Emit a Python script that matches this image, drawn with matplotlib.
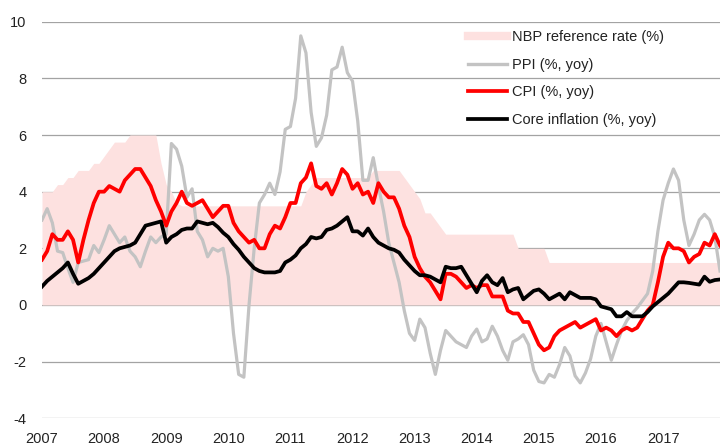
import matplotlib
matplotlib.use("Agg")
import matplotlib.pyplot as plt
from matplotlib.lines import Line2D
import numpy as np

plt.rcParams["font.family"] = ["Liberation Sans", "DejaVu Sans"]
plt.rcParams["axes.unicode_minus"] = False

# monthly series, Jan 2007 .. Dec 2017
years = [2007, 2008, 2009, 2010, 2011, 2012, 2013, 2014, 2015, 2016, 2017]

nbp_rate = [
    4.0, 4.0, 4.0, 4.25, 4.25, 4.5, 4.5, 4.75, 4.75, 4.75, 5.0, 5.0,
    5.25, 5.5, 5.75, 5.75, 5.75, 6.0, 6.0, 6.0, 6.0, 6.0, 6.0, 5.0,
    4.25, 4.0, 3.6, 3.5, 3.5, 3.5, 3.5, 3.5, 3.5, 3.5, 3.5, 3.5,
    3.5, 3.5, 3.5, 3.5, 3.5, 3.5, 3.5, 3.5, 3.5, 3.5, 3.5, 3.5,
    3.5, 3.5, 3.5, 4.0, 4.25, 4.5, 4.5, 4.5, 4.5, 4.5, 4.5, 4.5,
    4.5, 4.5, 4.5, 4.5, 4.75, 4.75, 4.75, 4.75, 4.75, 4.75, 4.5, 4.25,
    4.0, 3.75, 3.25, 3.25, 3.0, 2.75, 2.5, 2.5, 2.5, 2.5, 2.5, 2.5,
    2.5, 2.5, 2.5, 2.5, 2.5, 2.5, 2.5, 2.5, 2.0, 2.0, 2.0, 2.0,
    2.0, 2.0, 1.5, 1.5, 1.5, 1.5, 1.5, 1.5, 1.5, 1.5, 1.5, 1.5,
    1.5, 1.5, 1.5, 1.5, 1.5, 1.5, 1.5, 1.5, 1.5, 1.5, 1.5, 1.5,
    1.5, 1.5, 1.5, 1.5, 1.5, 1.5, 1.5, 1.5, 1.5, 1.5, 1.5, 1.5,
]

ppi = [
    3.0, 3.4, 2.9, 1.9, 1.85, 1.3, 0.8, 1.5, 1.55, 1.6, 2.1, 1.85,
    2.3, 2.8, 2.5, 2.2, 2.4, 1.9, 1.7, 1.35, 1.9, 2.4, 2.2, 2.4,
    2.5, 5.7, 5.5, 4.9, 3.8, 4.1, 2.6, 2.3, 1.7, 2.0, 1.9, 2.0,
    1.0, -1.0, -2.45, -2.55, 0.0, 2.0, 3.6, 3.9, 4.3, 3.9, 4.7, 6.2,
    6.3, 7.3, 9.5, 8.9, 6.8, 5.6, 5.9, 6.7, 8.3, 8.4, 9.1, 8.2,
    7.9, 6.5, 4.4, 4.4, 5.2, 4.2, 3.3, 2.2, 1.5, 0.8, -0.2, -1.0,
    -1.25, -0.5, -0.8, -1.7, -2.45, -1.6, -0.9, -1.1, -1.3, -1.4, -1.5, -1.1,
    -0.85, -1.3, -1.2, -0.75, -1.1, -1.6, -1.95, -1.3, -1.2, -1.05, -1.4, -2.3,
    -2.7, -2.75, -2.45, -2.55, -2.1, -1.5, -1.8, -2.5, -2.75, -2.4, -1.9, -1.1,
    -0.65, -1.3, -1.95, -1.4, -0.9, -0.55, -0.3, -0.1, 0.15, 0.4, 1.2, 2.6,
    3.7, 4.3, 4.8, 4.4, 3.0, 2.1, 2.5, 3.0, 3.2, 3.0, 2.4, 1.2,
]

cpi = [
    1.6, 1.9, 2.5, 2.3, 2.3, 2.6, 2.3, 1.5, 2.3, 3.0, 3.6, 4.0,
    4.0, 4.2, 4.1, 4.0, 4.4, 4.6, 4.8, 4.8, 4.5, 4.2, 3.7, 3.3,
    2.8, 3.3, 3.6, 4.0, 3.6, 3.5, 3.6, 3.7, 3.4, 3.1, 3.3, 3.5,
    3.5, 2.9, 2.6, 2.4, 2.2, 2.3, 2.0, 2.0, 2.5, 2.8, 2.7, 3.1,
    3.6, 3.6, 4.3, 4.5, 5.0, 4.2, 4.1, 4.3, 3.9, 4.3, 4.8, 4.6,
    4.1, 4.3, 3.9, 4.0, 3.6, 4.3, 4.0, 3.8, 3.8, 3.4, 2.8, 2.4,
    1.7, 1.3, 1.0, 0.8, 0.5, 0.2, 1.1, 1.1, 1.0, 0.8, 0.6, 0.7,
    0.6, 0.7, 0.7, 0.3, 0.3, 0.3, -0.2, -0.3, -0.3, -0.6, -0.6, -1.0,
    -1.4, -1.6, -1.5, -1.1, -0.9, -0.8, -0.7, -0.6, -0.8, -0.7, -0.6, -0.5,
    -0.9, -0.8, -0.9, -1.1, -0.9, -0.8, -0.9, -0.8, -0.5, -0.2, 0.0, 0.8,
    1.7, 2.2, 2.0, 2.0, 1.9, 1.5, 1.7, 1.8, 2.2, 2.1, 2.5, 2.1,
]

core = [
    0.65, 0.85, 1.0, 1.15, 1.3, 1.5, 1.1, 0.75, 0.85, 0.95, 1.1, 1.3,
    1.5, 1.7, 1.9, 2.0, 2.05, 2.1, 2.2, 2.5, 2.8, 2.85, 2.9, 2.95,
    2.2, 2.4, 2.5, 2.65, 2.7, 2.7, 2.95, 2.9, 2.85, 2.9, 2.75, 2.55,
    2.4, 2.15, 1.95, 1.7, 1.5, 1.3, 1.2, 1.15, 1.15, 1.15, 1.2, 1.5,
    1.6, 1.75, 2.0, 2.15, 2.4, 2.35, 2.4, 2.65, 2.7, 2.8, 2.95, 3.1,
    2.6, 2.6, 2.45, 2.7, 2.4, 2.2, 2.1, 2.0, 1.95, 1.85, 1.6, 1.4,
    1.2, 1.05, 1.05, 1.0, 0.9, 0.8, 1.35, 1.3, 1.3, 1.35, 1.05, 0.75,
    0.45, 0.85, 1.05, 0.8, 0.7, 0.95, 0.45, 0.55, 0.6, 0.2, 0.35, 0.5,
    0.55, 0.4, 0.2, 0.3, 0.4, 0.2, 0.45, 0.35, 0.25, 0.25, 0.25, 0.2,
    -0.05, -0.1, -0.15, -0.4, -0.4, -0.25, -0.4, -0.4, -0.4, -0.25, -0.05, 0.1,
    0.25, 0.4, 0.6, 0.8, 0.8, 0.78, 0.75, 0.72, 1.0, 0.82, 0.88, 0.9,
]

PINK = "#fde1e0"
GREY = "#c3c3c3"


def main():
    x = np.arange(len(cpi))
    fig = plt.figure(figsize=(7.2, 4.45), dpi=100)
    ax = fig.add_axes([42 / 720, 26.7 / 445, 678 / 720, 396.6 / 445])

    ax.fill_between(x, 0, nbp_rate, color=PINK, lw=0, zorder=1)
    ax.plot(x, ppi, color=GREY, lw=2.3, zorder=2)
    ax.plot(x, cpi, color="#ff0000", lw=2.7, zorder=3)
    ax.plot(x, core, color="black", lw=2.7, zorder=4)

    ax.set_xlim(0, 131)
    ax.set_ylim(-4, 10)
    ax.set_yticks(range(-4, 11, 2))
    ax.set_xticks([12 * i for i in range(len(years))])
    ax.set_xticklabels([str(y) for y in years])
    ax.grid(axis="y", color="#a3a3a3", lw=0.9)
    ax.set_axisbelow(True)
    for s in ax.spines.values():
        s.set_visible(False)
    ax.tick_params(axis="both", length=0, labelsize=10.5, colors="#222222")
    ax.tick_params(axis="y", pad=11)
    ax.tick_params(axis="x", pad=10)

    handles = [
        Line2D([], [], color=PINK, lw=6),
        Line2D([], [], color=GREY, lw=2.4),
        Line2D([], [], color="#ff0000", lw=2.7),
        Line2D([], [], color="black", lw=2.7),
    ]
    labels = ["NBP reference rate (%)", "PPI (%, yoy)", "CPI (%, yoy)",
              "Core inflation (%, yoy)"]
    ax.legend(handles, labels, loc="upper left", bbox_to_anchor=(468 / 720, 1 - 30.5 / 445),
              bbox_transform=fig.transFigure, frameon=False, fontsize=10.5,
              borderpad=0, borderaxespad=0, handlelength=2.7, handletextpad=0.35,
              labelspacing=0.92, labelcolor="#222222")

    fig.savefig("out.png", dpi=100)
    plt.close(fig)


if __name__ == "__main__":
    main()
